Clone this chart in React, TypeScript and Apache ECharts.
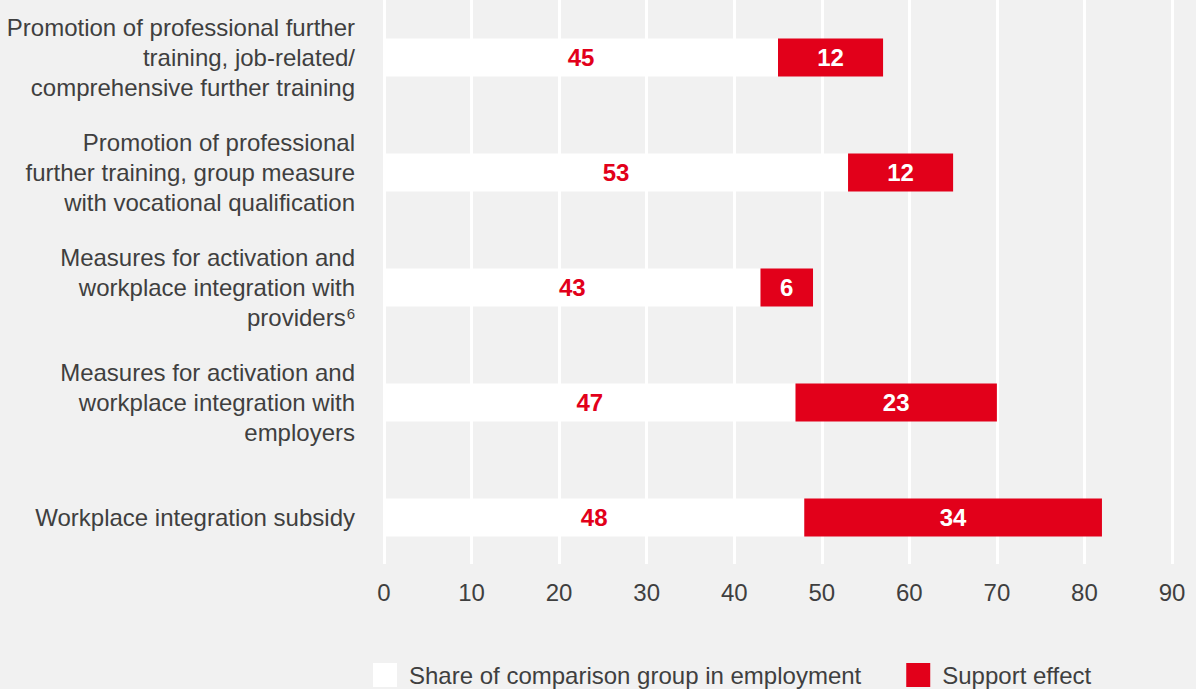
import React, { useEffect, useRef } from "react";
import * as echarts from "echarts";

const categories = [
  "Promotion of professional further\ntraining, job-related/\ncomprehensive further training",
  "Promotion of professional\nfurther training, group measure\nwith vocational qualification",
  "Measures for activation and\nworkplace integration with\nproviders{sup|6}",
  "Measures for activation and\nworkplace integration with\nemployers",
  "Workplace integration subsidy",
];
const comparisonShare = [45, 53, 43, 47, 48];
const supportEffect = [12, 12, 6, 23, 34];
const xTicks = { min: 0, max: 90, interval: 10 };

const RED = "#e2001a";
const TEXT = "#3f3f3f";
const BG = "#f1f1f1";
const FONT = "'Liberation Sans', Arial, sans-serif";

export default function App() {
  const ref = useRef<HTMLDivElement>(null);
  useEffect(() => {
    const chart = echarts.init(ref.current!, null, { renderer: "svg" });
    chart.setOption({
      animation: false,
      backgroundColor: BG,
      textStyle: { fontFamily: FONT },
      grid: { left: 384, right: 24, top: 0, bottom: 114, containLabel: false },
      xAxis: {
        type: "value",
        min: xTicks.min,
        max: xTicks.max,
        interval: xTicks.interval,
        axisLine: { show: false },
        axisTick: { show: false },
        axisLabel: { fontSize: 24, color: TEXT, fontFamily: FONT, margin: 5 },
        splitLine: { show: true, lineStyle: { color: "#ffffff", width: 3 } },
      },
      yAxis: {
        type: "category",
        inverse: true,
        data: categories,
        axisLine: { show: false },
        axisTick: { show: false },
        axisLabel: {
          fontSize: 24,
          color: TEXT,
          fontFamily: FONT,
          lineHeight: 30,
          margin: 29,
          align: "right",
          rich: {
            sup: { fontSize: 15, color: TEXT, fontFamily: FONT, verticalAlign: "top", lineHeight: 15, padding: [3, 0, 0, 1] },
          },
        },
      },
      graphic: [
        { type: "rect", left: 370, top: 564, shape: { width: 826, height: 12 }, style: { fill: BG }, z: 100, silent: true },
      ],
      legend: {
        left: 373,
        top: 663,
        padding: 0,
        itemWidth: 24,
        itemHeight: 24,
        itemGap: 45,
        icon: "rect",
        textStyle: { fontSize: 24, color: TEXT, fontFamily: FONT, padding: [0, 0, 0, 7] },
        data: ["Share of comparison group in employment", "Support effect"],
      },
      series: [
        {
          name: "Share of comparison group in employment",
          type: "bar",
          stack: "total",
          data: comparisonShare,
          barWidth: 38,
          itemStyle: { color: "#ffffff" },
          label: { show: true, position: "inside", color: RED, fontWeight: "bold", fontSize: 24, fontFamily: FONT },
        },
        {
          name: "Support effect",
          type: "bar",
          stack: "total",
          data: supportEffect,
          barWidth: 38,
          itemStyle: { color: RED },
          label: { show: true, position: "inside", color: "#ffffff", fontWeight: "bold", fontSize: 24, fontFamily: FONT },
        },
      ],
    });
    return () => chart.dispose();
  }, []);
  return <div ref={ref} style={{ position: "fixed", left: 0, top: 0, width: 1196, height: 689 }} />;
}
